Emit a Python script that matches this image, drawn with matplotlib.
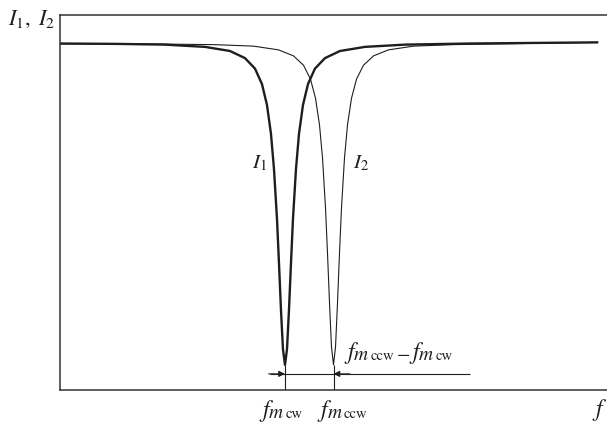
import matplotlib
matplotlib.use("Agg")
import matplotlib.pyplot as plt

plt.rcParams['font.family'] = 'STIXGeneral'
plt.rcParams['mathtext.fontset'] = 'stix'

# resonance centres (arbitrary frequency units)
f_cw = 41.13
f_ccw = 50.0

f1 = [0.0, 10.05, 19.19, 26.50, 31.08, 33.82, 35.65, 36.92, 37.84, 38.57, 39.12,
      39.67, 40.03, 40.40, 40.76, 41.13, 41.50, 41.86, 42.23, 42.59, 43.14, 43.69,
      44.42, 45.34, 46.61, 48.44, 51.18, 55.76, 63.07, 75.0, 98.2]
i1 = [0.924, 0.923, 0.921, 0.915, 0.904, 0.885, 0.857, 0.816, 0.760, 0.683, 0.589,
      0.456, 0.339, 0.213, 0.109, 0.067, 0.109, 0.213, 0.339, 0.456, 0.589, 0.683,
      0.760, 0.816, 0.857, 0.885, 0.904, 0.915, 0.921, 0.924, 0.927]

# I2: counter-clockwise dip
f2 = [0.0, 15.0, 28.06, 35.37, 39.95, 42.69, 44.52, 45.79, 46.71, 47.44, 47.99,
      48.54, 48.90, 49.27, 49.63, 50.0, 50.37, 50.73, 51.10, 51.46, 52.01, 52.56,
      53.29, 54.21, 55.48, 57.31, 60.05, 64.63, 71.94, 85.0, 98.2]
i2 = [0.923, 0.923, 0.921, 0.917, 0.907, 0.891, 0.866, 0.829, 0.778, 0.707, 0.619,
      0.485, 0.366, 0.232, 0.115, 0.067, 0.115, 0.232, 0.366, 0.485, 0.619, 0.707,
      0.778, 0.829, 0.866, 0.891, 0.907, 0.917, 0.921, 0.924, 0.927]

ink = '#1e1e1e'
W, H = 607, 424

fig = plt.figure(figsize=(W / 100, H / 100), dpi=100)
ax = fig.add_axes([60 / W, 34 / H, 547 / W, 375 / H])
renderer = fig.canvas.get_renderer()


def chained(x, y, pieces):
    """Write pieces left to right from pixel (x, y); y is the baseline
    measured from the top. Each piece is (text, size, style, drop, gap)."""
    for s, size, style, drop, gap in pieces:
        x += gap
        t = fig.text(x / W, 1 - (y + drop) / H, s, fontsize=size,
                     style=style, color=ink, ha='left', va='baseline')
        x = t.get_window_extent(renderer).x1


def f_sub(tag):
    return [('f', 17, 'italic', 0, 0), ('m', 14, 'italic', 2, 0.5),
            (tag, 10.5, 'normal', 2, 2)]


ax.plot(f1, i1, color=ink, lw=1.7, solid_joinstyle='round')
ax.plot(f2, i2, color=ink, lw=0.8, solid_joinstyle='round')

# markers down to the f axis
ax.vlines([f_cw, f_ccw], 0, 0.067, color=ink, lw=0.8)

# spacing between the two resonances
y_arr = 0.043
ax.hlines(y_arr, 38.4, 74.95, color=ink, lw=0.8)
ax.annotate('', xy=(f_cw, y_arr), xytext=(f_cw - 3.0, y_arr),
            arrowprops=dict(arrowstyle='-|>', color=ink, lw=0.8,
                            mutation_scale=9, shrinkA=0, shrinkB=0))
ax.annotate('', xy=(f_ccw, y_arr), xytext=(f_ccw + 3.0, y_arr),
            arrowprops=dict(arrowstyle='-|>', color=ink, lw=0.8,
                            mutation_scale=9, shrinkA=0, shrinkB=0))

ax.text(35.1, 0.592, r'$I_1$', fontsize=15, color=ink, va='baseline')
ax.text(53.6, 0.592, r'$I_2$', fontsize=15, color=ink, va='baseline')

ax.set_xlim(0, 100)
ax.set_ylim(0, 1)
ax.set_xticks([])
ax.set_yticks([])

for side in ['top', 'left', 'bottom']:
    ax.spines[side].set_linewidth(1.1)
    ax.spines[side].set_color('#333333')
ax.spines['right'].set_visible(False)

# frequency labels under the two markers
x_cw = ax.transData.transform((f_cw, 0))[0]
x_ccw = ax.transData.transform((f_ccw, 0))[0]
chained(x_cw - 23, 416.5, f_sub('cw'))
chained(x_ccw - 13, 416.5, f_sub('ccw'))

# difference label above the arrow
chained(347, 358.5, f_sub('ccw') + [('\u2212', 14, 'normal', 1, 3)]
        + [('f', 17, 'italic', 0, 2)] + f_sub('cw')[1:])

fig.text(599 / W, 1 - 410 / H, 'f', fontsize=17, style='italic', color=ink,
         ha='center', va='center')
fig.text(8 / W, 1 - 25 / H, r'$I_1,\ I_2$', fontsize=16, color=ink,
         va='baseline', ha='left')

fig.savefig('out.png', dpi=100)
